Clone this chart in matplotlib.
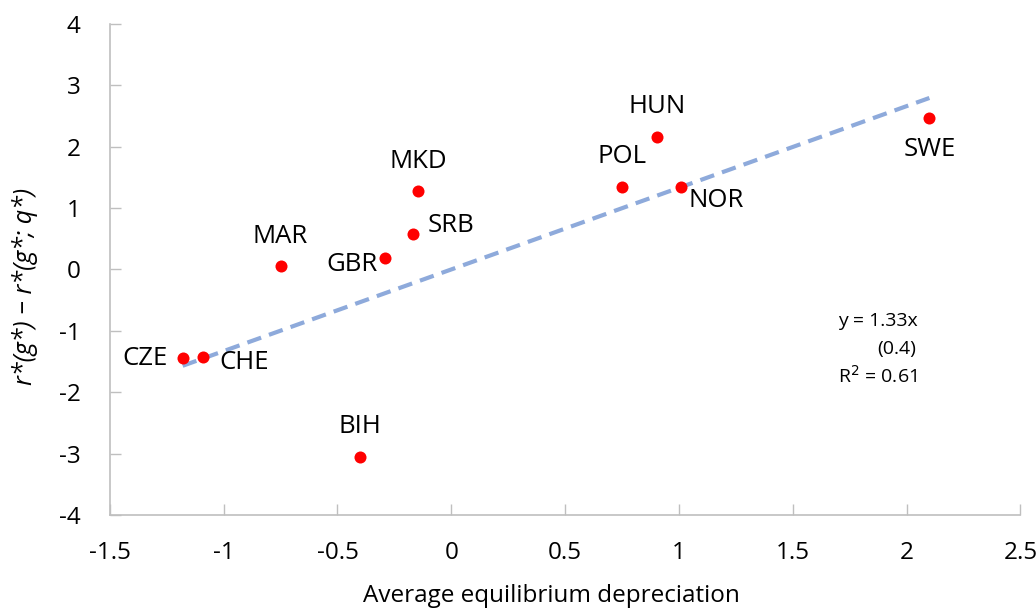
import matplotlib.pyplot as plt
import numpy as np

plt.rcParams['font.family'] = ['Open Sans', 'DejaVu Sans']
plt.rcParams['axes.unicode_minus'] = False

countries = ['CZE', 'CHE', 'MAR', 'GBR', 'BIH', 'SRB', 'MKD', 'POL', 'HUN', 'NOR', 'SWE']
depreciation = [-1.18, -1.09, -0.75, -0.29, -0.40, -0.17, -0.145, 0.75, 0.905, 1.01, 2.10]
r_gap = [-1.45, -1.43, 0.05, 0.18, -3.05, 0.57, 1.27, 1.35, 2.15, 1.34, 2.46]

# label offsets in pixels from each dot
offsets = {
    'CZE': (-38, 0), 'CHE': (41, -5), 'MAR': (0, 30), 'GBR': (-33, -6),
    'BIH': (0, 30), 'SRB': (38, 9), 'MKD': (0, 30), 'POL': (0, 30),
    'HUN': (0, 31), 'NOR': (35, -13), 'SWE': (0, -31),
}

slope = 1.33

fig = plt.figure(figsize=(10.36, 6.12), dpi=100)
ax = fig.add_axes([0.106, 0.1585, 0.879, 0.8025])

# fitted line through the origin
xs = np.array([min(depreciation), max(depreciation)])
ax.plot(xs, slope * xs, color='#8eaadb', linewidth=3, dashes=(3.5, 2), zorder=2)

ax.scatter(depreciation, r_gap, s=75, color='#ff0000', zorder=3, linewidths=0)

for name, x, y in zip(countries, depreciation, r_gap):
    ax.annotate(name, (x, y), xytext=offsets[name], textcoords='offset pixels',
                ha='center', va='center', fontsize=18.5, color='black')

ax.text(0.800, 0.395, 'y = 1.33x', transform=ax.transAxes, fontsize=14, ha='left', va='center')
ax.text(0.843, 0.338, '(0.4)', transform=ax.transAxes, fontsize=14, ha='left', va='center')
ax.text(0.800, 0.283, 'R$^2$ = 0.61', transform=ax.transAxes, fontsize=14, ha='left', va='center')

ax.set_xlim(-1.5, 2.5)
ax.set_ylim(-4, 4)
ax.set_xticks([-1.5, -1, -0.5, 0, 0.5, 1, 1.5, 2, 2.5])
ax.set_xticklabels(['-1.5', '-1', '-0.5', '0', '0.5', '1', '1.5', '2', '2.5'])
ax.set_yticks(range(-4, 5))

for side in ['top', 'right']:
    ax.spines[side].set_visible(False)
for side in ['left', 'bottom']:
    ax.spines[side].set_color('#bfbfbf')
    ax.spines[side].set_linewidth(1.2)

ax.tick_params(direction='in', length=8, width=1, color='#bfbfbf', labelsize=17.5)
ax.tick_params(axis='y', pad=21)
ax.tick_params(axis='x', pad=19)

ax.set_xlabel('Average equilibrium depreciation', fontsize=17.5)
ax.set_ylabel('r*(g*) \u2212 r*(g*; q*)', fontsize=18, fontstyle='italic')
ax.xaxis.set_label_coords(0.485, -0.14)
ax.yaxis.set_label_coords(-0.079, 0.466)

fig.savefig('out.png', dpi=100)
